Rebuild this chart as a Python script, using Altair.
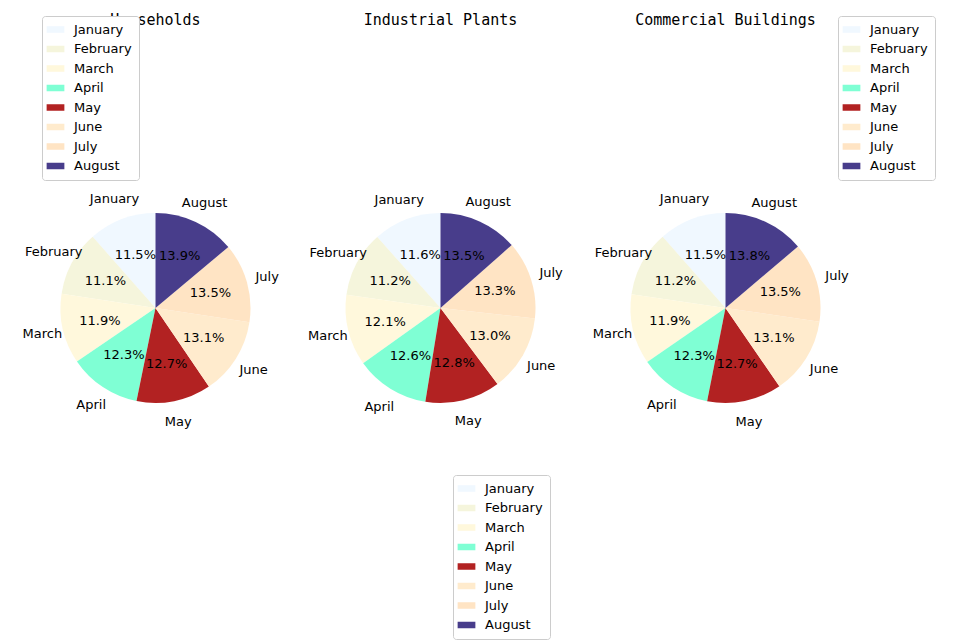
import altair as alt
import pandas as pd

months = ["January","February","March","April","May","June","July","August"]
colors = ["#F0F8FF","#F5F5DC","#FFF8DC","#7FFFD4","#B22222","#FFEBCD","#FFE4C4","#483D8B"]
titles = ["Households","Industrial Plants","Commercial Buildings"]
households = [11.5,11.1,11.9,12.3,12.7,13.1,13.5,13.9]
industrial = [11.6,11.2,12.1,12.6,12.8,13.0,13.3,13.5]
commercial = [11.5,11.2,11.9,12.3,12.7,13.1,13.5,13.8]
series = [households, industrial, commercial]
legend_pos = [(29,0),(155,459),(255,0)]

W, H = 285, 584

def pie(vals, title, lx, ly):
    df = pd.DataFrame({"month": months, "value": vals, "idx": list(range(8))})
    df["pct"] = [f"{v:.1f}%" for v in vals]
    base = alt.Chart(df).encode(
        theta=alt.Theta("value:Q", stack=True),
        order=alt.Order("idx:Q", sort="descending"),
    )
    arcs = base.mark_arc(outerRadius=95).encode(
        color=alt.Color("month:N", scale=alt.Scale(domain=months, range=colors),
                        legend=alt.Legend(title=None, orient="none", legendX=lx, legendY=ly,
                                          symbolType="M-1.5,-0.55L1.5,-0.55L1.5,0.55L-1.5,0.55Z",
                                          symbolSize=140, symbolStrokeWidth=0,
                                          labelFontSize=13, labelFont="DejaVu Sans", labelOffset=12,
                                          rowPadding=5.5, padding=7, strokeColor="#cccccc",
                                          fillColor="white", cornerRadius=3))
    )
    names = base.mark_text(radius=116, fontSize=13, font="DejaVu Sans", color="black").encode(text="month:N")
    pcts = base.mark_text(radius=57, fontSize=13, font="DejaVu Sans", color="black").encode(text="pct:N")
    ttl = alt.Chart(pd.DataFrame({"t": [title]})).mark_text(
        font="DejaVu Sans Mono", fontSize=15, color="black").encode(
        text="t:N", x=alt.value(W / 2), y=alt.value(4))
    return (arcs + names + pcts + ttl).properties(width=W, height=H)

charts = [pie(s, t, *p) for s, t, p in zip(series, titles, legend_pos)]
chart = alt.hconcat(*charts, spacing=0).resolve_scale(color="independent").configure_view(stroke=None)
chart.save("out.html", embed_options={"renderer": "svg", "actions": False})
